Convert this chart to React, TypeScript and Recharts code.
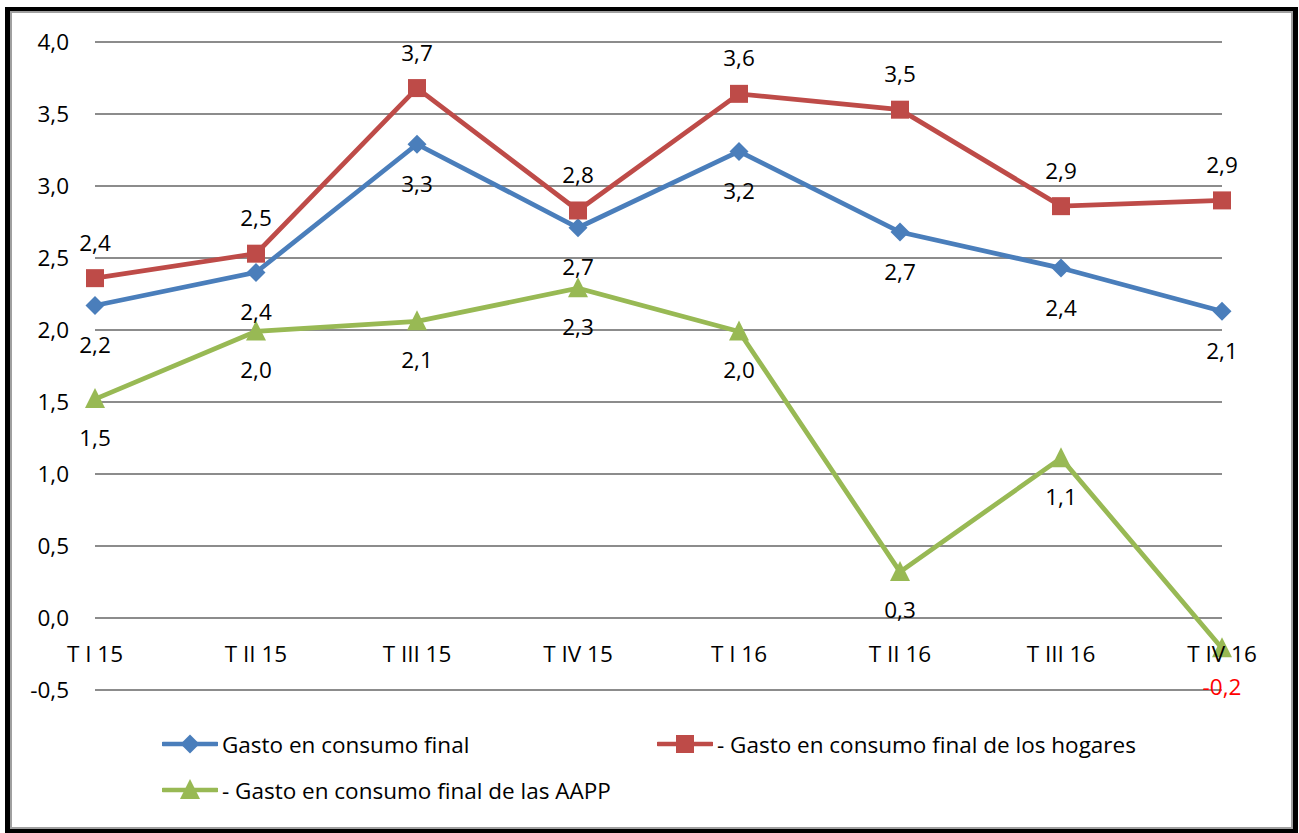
import React from 'react';
import { LineChart, Line, XAxis, YAxis, CartesianGrid, LabelList, Legend } from 'recharts';

const categories = ['T I 15', 'T II 15', 'T III 15', 'T IV 15', 'T I 16', 'T II 16', 'T III 16', 'T IV 16'];
const gastoTotal = [2.17, 2.4, 3.29, 2.71, 3.24, 2.68, 2.43, 2.13];
const gastoHogares = [2.36, 2.53, 3.68, 2.83, 3.64, 3.53, 2.86, 2.9];
const gastoAAPP = [1.52, 1.99, 2.06, 2.29, 1.99, 0.32, 1.11, -0.21];
const yTicks = [-0.5, 0, 0.5, 1, 1.5, 2, 2.5, 3, 3.5, 4];
const seriesNames = [
  'Gasto en consumo final',
  '- Gasto en consumo final de los hogares',
  '- Gasto en consumo final de las AAPP',
];

const FONT = "'Open Sans', sans-serif";
const FS = 22.5;
const BLUE = '#4a7ebb';
const RED = '#be4b48';
const GREEN = '#98b954';

const data = categories.map((cat, i) => ({
  cat,
  total: gastoTotal[i],
  hogares: gastoHogares[i],
  aapp: gastoAAPP[i],
  zero: 0,
}));

const fmt = (v: number) => v.toFixed(1).replace('.', ',');

const markerPath = (shape: string, cx: number, cy: number) => {
  if (shape === 'diamond') {
    const r = 9.5;
    return `M${cx},${cy - r}L${cx + r},${cy}L${cx},${cy + r}L${cx - r},${cy}Z`;
  }
  if (shape === 'square') {
    const r = 9;
    return `M${cx - r},${cy - r}L${cx + r},${cy - r}L${cx + r},${cy + r}L${cx - r},${cy + r}Z`;
  }
  const w = 10;
  return `M${cx},${cy - 11}L${cx + w},${cy + 9}L${cx - w},${cy + 9}Z`;
};

const makeDot = (shape: string, color: string) => (p: any) => {
  const { cx, cy, index } = p;
  if (cx == null || cy == null) return <g key={`d-${shape}-${index}`} />;
  return <path key={`d-${shape}-${index}`} d={markerPath(shape, cx, cy)} fill={color} stroke="none" />;
};

const makeLabel = (dy: number, isText = false) => (p: any) => {
  const x = p.x ?? p.viewBox?.x;
  const y = p.y ?? p.viewBox?.y;
  const { value, index } = p;
  if (x == null || y == null) return null;
  const txt = isText ? String(value) : fmt(Number(value));
  const fill = !isText && Number(value) < 0 ? '#ff0000' : '#000';
  return (
    <text
      key={`l-${dy}-${index}`}
      x={x}
      y={y + dy}
      textAnchor="middle"
      dominantBaseline="central"
      fontFamily={FONT}
      fontSize={FS}
      fill={fill}
    >
      {txt}
    </text>
  );
};

const seriesStyle: Record<string, { shape: string; color: string; name: string }> = {
  total: { shape: 'diamond', color: BLUE, name: seriesNames[0] },
  hogares: { shape: 'square', color: RED, name: seriesNames[1] },
  aapp: { shape: 'triangle', color: GREEN, name: seriesNames[2] },
};

const legendPos: Record<string, { left: number; top: number }> = {
  total: { left: 162, top: 744 },
  hogares: { left: 657, top: 744 },
  aapp: { left: 162, top: 790 },
};

const renderLegend = (props: any) => {
  const payload = (props.payload || []).filter((p: any) => seriesStyle[p.dataKey]);
  return (
    <div style={{ position: 'relative', width: 1299, height: 833 }}>
      {payload.map((p: any) => {
        const s = seriesStyle[p.dataKey];
        const pos = legendPos[p.dataKey];
        return (
          <div
            key={p.dataKey}
            style={{
              position: 'absolute',
              left: pos.left,
              top: pos.top - 14,
              height: 28,
              display: 'flex',
              alignItems: 'center',
              whiteSpace: 'nowrap',
            }}
          >
            <svg width={56} height={28} style={{ display: 'block' }}>
              <line x1={1} y1={14} x2={55} y2={14} stroke={s.color} strokeWidth={4.5} strokeLinecap="round" />
              <path d={markerPath(s.shape, 28, 14)} fill={s.color} />
            </svg>
            <span style={{ fontFamily: FONT, fontSize: FS, color: '#000', marginLeft: 4 }}>{p.value}</span>
          </div>
        );
      })}
    </div>
  );
};

export default function App() {
  return (
    <div style={{ position: 'absolute', left: 0, top: 0, width: 1299, height: 833, overflow: 'hidden', background: '#fff' }}>
      <div style={{ position: 'absolute', left: 5, top: 7, width: 1293, height: 840, background: '#000' }} />
      <div
        style={{
          position: 'absolute',
          left: 10,
          top: 11,
          width: 1279,
          height: 814,
          border: '2px solid #a0a0a0',
          background: '#fff',
        }}
      />
      <div style={{ position: 'absolute', left: 0, top: 0 }}>
        <LineChart width={1299} height={833} data={data} margin={{ top: 42, right: 77, left: 35, bottom: 143 }}>
          <CartesianGrid vertical={false} stroke="#8c8c8c" strokeWidth={2} />
          <XAxis dataKey="cat" hide />
          <YAxis
            domain={[-0.5, 4]}
            ticks={yTicks}
            interval={0}
            width={60}
            axisLine={false}
            tickLine={false}
            tickSize={0}
            tickMargin={26}
            tickFormatter={(v: number) => fmt(v)}
            tick={{ fontFamily: FONT, fontSize: FS, fill: '#000' }}
          />
          <Line
            dataKey="zero"
            stroke="none"
            dot={false}
            activeDot={false}
            legendType="none"
            isAnimationActive={false}
          >
            <LabelList dataKey="cat" content={makeLabel(35, true)} />
          </Line>
          <Line
            dataKey="total"
            name={seriesNames[0]}
            stroke={BLUE}
            strokeWidth={4.75}
            dot={makeDot('diamond', BLUE)}
            activeDot={false}
            isAnimationActive={false}
          >
            <LabelList dataKey="total" content={makeLabel(39)} />
          </Line>
          <Line
            dataKey="hogares"
            name={seriesNames[1]}
            stroke={RED}
            strokeWidth={4.75}
            dot={makeDot('square', RED)}
            activeDot={false}
            isAnimationActive={false}
          >
            <LabelList dataKey="hogares" content={makeLabel(-36)} />
          </Line>
          <Line
            dataKey="aapp"
            name={seriesNames[2]}
            stroke={GREEN}
            strokeWidth={4.75}
            dot={makeDot('triangle', GREEN)}
            activeDot={false}
            isAnimationActive={false}
          >
            <LabelList dataKey="aapp" content={makeLabel(38)} />
          </Line>
          <Legend
            layout="horizontal"
            verticalAlign="middle"
            align="center"
            wrapperStyle={{ left: 0, top: 0, width: 1299, height: 833, pointerEvents: 'none' }}
            content={renderLegend}
          />
        </LineChart>
      </div>
    </div>
  );
}
